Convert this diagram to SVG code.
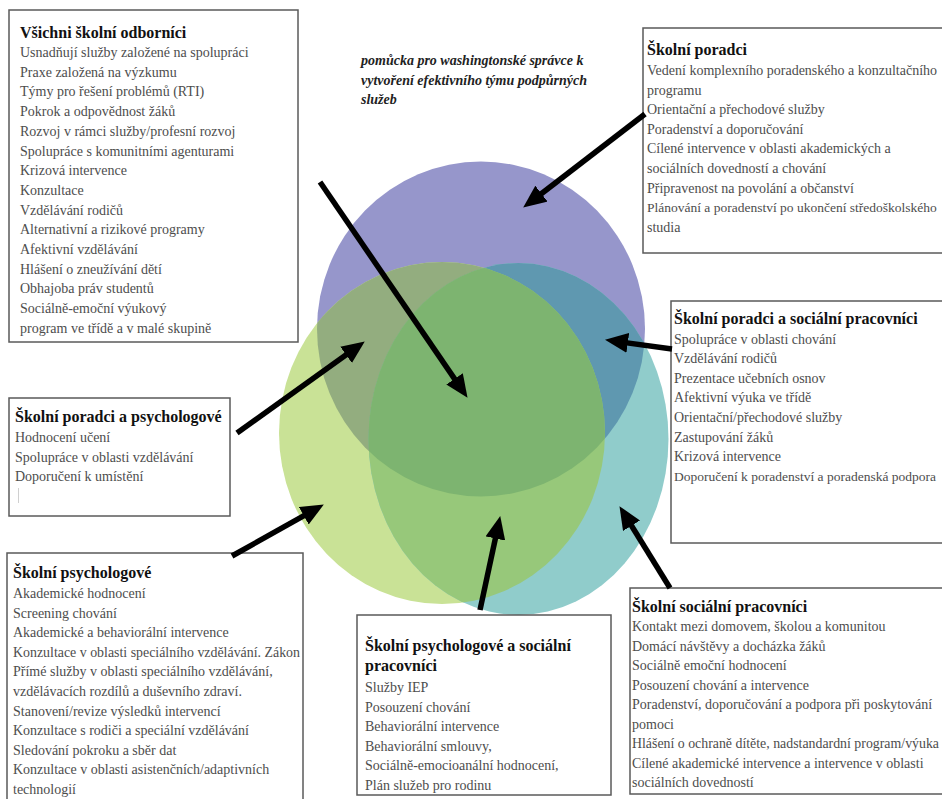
<svg xmlns="http://www.w3.org/2000/svg" width="942" height="799" viewBox="0 0 942 799">
<style>
.box{fill:#ffffff;stroke:#5a5a5a;stroke-width:1.5}
.t{font-family:"Liberation Serif","DejaVu Serif",serif;font-size:16px;font-weight:bold;fill:#111111}
.b{font-family:"Liberation Serif","DejaVu Serif",serif;font-size:14px;fill:#4d4d4d}
.s{font-size:13.5px}
.cap{font-family:"Liberation Serif","DejaVu Serif",serif;font-size:14px;font-weight:bold;font-style:italic;fill:#222222}
.arr{stroke:#000000;stroke-width:5.5;fill:none;marker-end:url(#ah)}
</style>
<defs>
<marker id="ah" markerUnits="userSpaceOnUse" markerWidth="24" markerHeight="20" viewBox="0 0 24 20" refX="10" refY="10" orient="auto">
<path d="M0,0 L23,10 L0,20 z" fill="#000000"/>
</marker>
<clipPath id="cB"><ellipse cx="481" cy="329" rx="164" ry="167.5"/></clipPath>
<clipPath id="cG"><ellipse cx="442" cy="433" rx="163" ry="171"/></clipPath>
</defs>
<rect width="942" height="799" fill="#ffffff"/>

<g id="venn">
<ellipse cx="481" cy="329" rx="164" ry="167.5" fill="#9696cb"/>
<ellipse cx="442" cy="433" rx="163" ry="171" fill="#c9e296"/>
<ellipse cx="518.5" cy="439" rx="150" ry="176" fill="#90cccb"/>
<ellipse cx="442" cy="433" rx="163" ry="171" fill="#93ad7f" clip-path="url(#cB)"/>
<ellipse cx="518.5" cy="439" rx="150" ry="176" fill="#5f98b0" clip-path="url(#cB)"/>
<ellipse cx="518.5" cy="439" rx="150" ry="176" fill="#97c87a" clip-path="url(#cG)"/>
<g clip-path="url(#cB)"><ellipse cx="518.5" cy="439" rx="150" ry="176" fill="#7db470" clip-path="url(#cG)"/></g>
</g>

<g id="caption">
<text class="cap" x="361" y="64.5">pomůcka pro washingtonské správce k</text>
<text class="cap" x="361" y="84.5">vytvoření efektivního týmu podpůrných</text>
<text class="cap" x="361" y="103.5">služeb</text>
</g>

<g id="all-professionals">
<rect class="box" x="9" y="10" width="289" height="332"/>
<text class="t" x="20" y="37.5">Všichni školní odborníci</text>
<text class="b" x="20" y="57">Usnadňují služby založené na spolupráci</text>
<text class="b" x="20" y="76.7">Praxe založená na výzkumu</text>
<text class="b" x="20" y="96.4">Týmy pro řešení problémů (RTI)</text>
<text class="b" x="20" y="116.1">Pokrok a odpovědnost žáků</text>
<text class="b" x="20" y="135.8">Rozvoj v rámci služby/profesní rozvoj</text>
<text class="b" x="20" y="155.5">Spolupráce s komunitními agenturami</text>
<text class="b" x="20" y="175.2">Krizová intervence</text>
<text class="b" x="20" y="194.9">Konzultace</text>
<text class="b" x="20" y="214.6">Vzdělávání rodičů</text>
<text class="b" x="20" y="234.3">Alternativní a rizikové programy</text>
<text class="b" x="20" y="254">Afektivní vzdělávání</text>
<text class="b" x="20" y="273.7">Hlášení o zneužívání dětí</text>
<text class="b" x="20" y="293.4">Obhajoba práv studentů</text>
<text class="b" x="20" y="313.1">Sociálně-emoční výukový</text>
<text class="b" x="20" y="332.8">program ve třídě a v malé skupině</text>
</g>

<g id="counselors">
<rect class="box" x="643" y="28" width="310" height="225"/>
<text class="t" x="647" y="54.5">Školní poradci</text>
<text class="b" x="647" y="75">Vedení komplexního poradenského a konzultačního</text>
<text class="b" x="647" y="94.6">programu</text>
<text class="b" x="647" y="114.2">Orientační a přechodové služby</text>
<text class="b" x="647" y="133.8">Poradenství a doporučování</text>
<text class="b" x="647" y="153.4">Cílené intervence v oblasti akademických a</text>
<text class="b" x="647" y="173">sociálních dovedností a chování</text>
<text class="b" x="647" y="192.6">Připravenost na povolání a občanství</text>
<text class="b s" x="647" y="212.2">Plánování a poradenství po ukončení středoškolského</text>
<text class="b" x="647" y="231.8">studia</text>
</g>

<g id="counselors-social-workers">
<rect class="box" x="671" y="301" width="280" height="242"/>
<text class="t" x="674" y="324">Školní poradci a sociální pracovníci</text>
<text class="b" x="674" y="343.5">Spolupráce v oblasti chování</text>
<text class="b" x="674" y="363.1">Vzdělávání rodičů</text>
<text class="b" x="674" y="382.7">Prezentace učebních osnov</text>
<text class="b" x="674" y="402.3">Afektivní výuka ve třídě</text>
<text class="b" x="674" y="421.9">Orientační/přechodové služby</text>
<text class="b" x="674" y="441.5">Zastupování žáků</text>
<text class="b" x="674" y="461.1">Krizová intervence</text>
<text class="b s" x="674" y="480.7">Doporučení k poradenství a poradenská podpora</text>
</g>

<g id="counselors-psychologists">
<rect class="box" x="9" y="398" width="221" height="118"/>
<text class="t" x="15" y="422">Školní poradci a psychologové</text>
<text class="b" x="15" y="442">Hodnocení učení</text>
<text class="b" x="15" y="461.6">Spolupráce v oblasti vzdělávání</text>
<text class="b" x="15" y="481.2">Doporučení k umístění</text>
<line x1="18.5" y1="488" x2="18.5" y2="503" stroke="#d0d0d0" stroke-width="1"/>
</g>

<g id="psychologists">
<rect class="box" x="7" y="553" width="296" height="262"/>
<text class="t" x="13" y="578">Školní psychologové</text>
<text class="b" x="13" y="598">Akademické hodnocení</text>
<text class="b" x="13" y="617.6">Screening chování</text>
<text class="b" x="13" y="637.2">Akademické a behaviorální intervence</text>
<text class="b" x="13" y="656.8" textLength="287" lengthAdjust="spacingAndGlyphs">Konzultace v oblasti speciálního vzdělávání. Zákon</text>
<text class="b" x="13" y="676.4">Přímé služby v oblasti speciálního vzdělávání,</text>
<text class="b" x="13" y="696">vzdělávacích rozdílů a duševního zdraví.</text>
<text class="b" x="13" y="715.6">Stanovení/revize výsledků intervencí</text>
<text class="b" x="13" y="735.2">Konzultace s rodiči a speciální vzdělávání</text>
<text class="b" x="13" y="754.8">Sledování pokroku a sběr dat</text>
<text class="b" x="13" y="774.4">Konzultace v oblasti asistenčních/adaptivních</text>
<text class="b" x="13" y="794">technologií</text>
</g>

<g id="psychologists-social-workers">
<rect class="box" x="357" y="615" width="254" height="180"/>
<text class="t" x="365" y="651">Školní psychologové a sociální</text>
<text class="t" x="365" y="671">pracovníci</text>
<text class="b" x="365" y="692">Služby IEP</text>
<text class="b" x="365" y="711.5">Posouzení chování</text>
<text class="b" x="365" y="731">Behaviorální intervence</text>
<text class="b" x="365" y="750.5">Behaviorální smlouvy,</text>
<text class="b" x="365" y="770">Sociálně-emocioanální hodnocení,</text>
<text class="b" x="365" y="789.5">Plán služeb pro rodinu</text>
</g>

<g id="social-workers">
<rect class="box" x="630" y="588" width="320" height="206"/>
<text class="t" x="632" y="612">Školní sociální pracovníci</text>
<text class="b" x="632" y="631">Kontakt mezi domovem, školou a komunitou</text>
<text class="b" x="632" y="650.5">Domácí návštěvy a docházka žáků</text>
<text class="b" x="632" y="670">Sociálně emoční hodnocení</text>
<text class="b" x="632" y="689.5">Posouzení chování a intervence</text>
<text class="b" x="632" y="709">Poradenství, doporučování a podpora při poskytování</text>
<text class="b" x="632" y="728.5">pomoci</text>
<text class="b" x="632" y="748" textLength="307" lengthAdjust="spacingAndGlyphs">Hlášení o ochraně dítěte, nadstandardní program/výuka</text>
<text class="b" x="632" y="767.5">Cílené akademické intervence a intervence v oblasti</text>
<text class="b" x="632" y="787">sociálních dovedností</text>
</g>

<g id="connectors">
<line class="arr" x1="320" y1="182" x2="460.2" y2="387.1"/>
<line class="arr" x1="645" y1="114" x2="533.5" y2="199.7"/>
<line class="arr" x1="237" y1="433" x2="354.2" y2="349"/>
<line class="arr" x1="232" y1="556" x2="312.5" y2="510.9"/>
<line class="arr" x1="672" y1="349" x2="617.9" y2="341.6"/>
<line class="arr" x1="670" y1="588" x2="626.3" y2="517.2"/>
<line class="arr" x1="480" y1="610" x2="497.5" y2="528.7"/>
</g>
</svg>
